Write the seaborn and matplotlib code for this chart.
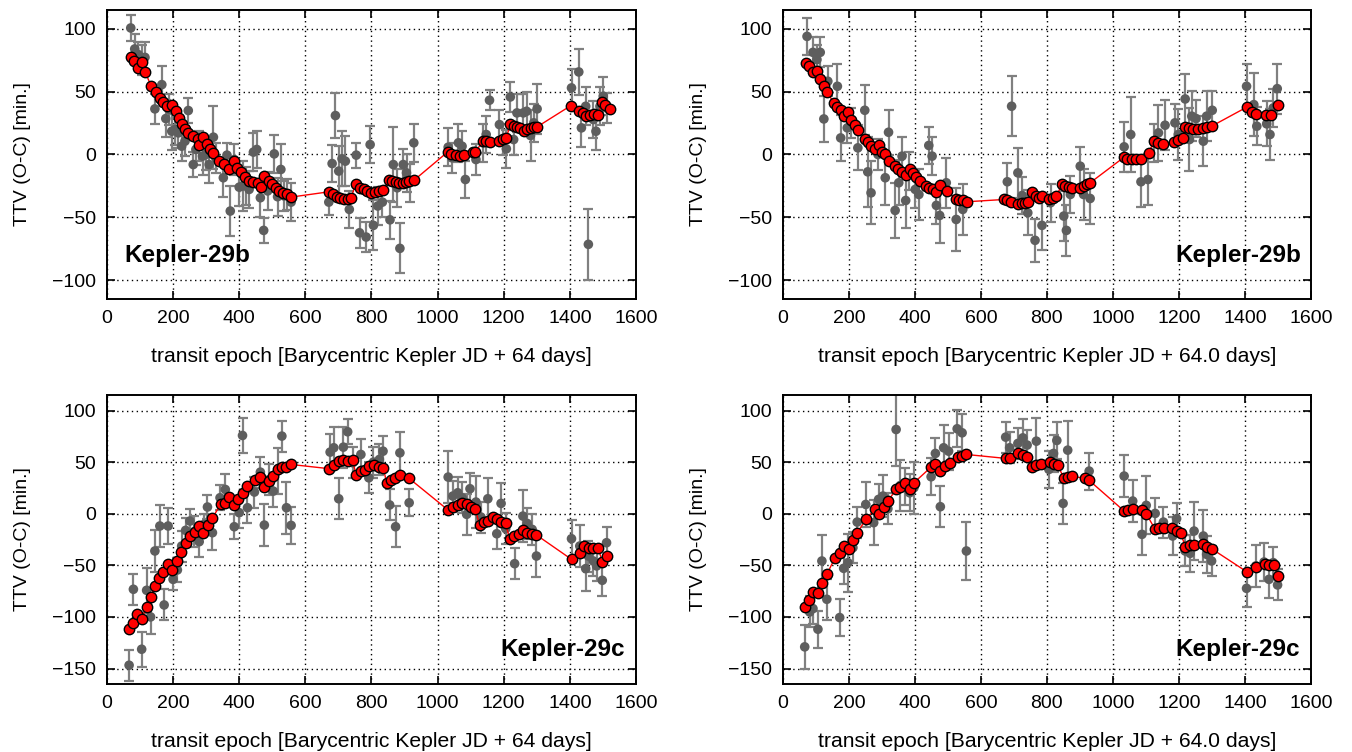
import matplotlib
matplotlib.use("Agg")
import matplotlib.pyplot as plt
import seaborn as sns

# ------------------------------------------------------------------
# Data (epoch in days, TTV in minutes)
# ------------------------------------------------------------------
# Kepler-29b, left panel (JD + 64 days)
b64_model_x = [74, 81, 93, 105, 115, 134, 147, 160, 171, 183, 198, 208, 218, 226, 236,
               246, 259, 274, 279, 291, 302, 312, 322, 339, 355, 370, 383, 393, 405, 417,
               430, 442, 456, 466, 476, 489, 499, 511, 521, 533, 544, 557,
               671, 683, 695, 705, 716, 728, 738, 752, 764, 776, 787, 799, 812, 824, 836,
               853, 863, 873, 883, 894, 904, 914, 929,
               1030, 1041, 1056, 1069, 1081, 1106, 1114, 1137, 1147, 1157, 1187, 1197, 1208,
               1220, 1230, 1240, 1250, 1261, 1271, 1281, 1291, 1301,
               1403, 1427, 1440, 1450, 1460, 1473, 1486, 1496, 1506, 1520]
b64_model_y = [77.3, 74.7, 68.6, 73.4, 66, 54.3, 49.5, 45, 42, 38.4, 39.2, 34.4, 29.1, 24.1, 20.4,
               17.2, 14.6, 12.5, 7.2, 14, 8.7, 4.5, 0.8, -5.3, -7.2, -11.4, -5.3, -10.6, -14, -18,
               -20.7, -22, -23, -26, -17.2, -21.2, -23.8, -26.5, -29.1, -30.7, -31.8, -33.9,
               -29.7, -31.3, -33.9, -34.7, -35.2, -35.2, -34.7, -23.8, -26.5, -27.8, -29.1, -30.5, -29.9, -29.1, -28.3,
               -20.4, -21.2, -22, -23, -22.5, -21.7, -20.9, -20.4,
               1.9, 0.5, -0.5, -1.3, -0.5, 1.9, 1.9, 10.6, 10.6, 9.8, 11.1, 12.5, 13.2,
               24.4, 22.5, 21.7, 20.7, 18.5, 20.4, 21.2, 21.7, 22,
               38.9, 35, 33.1, 31, 31.8, 32.3, 31.3, 41.6, 39.2, 36.6]
b64_obs_x = [72, 84, 95, 105, 115, 145, 166, 178, 188, 196, 206, 216, 226, 236, 246,
             261, 269, 279, 289, 299, 309, 322, 329, 352, 363, 373, 385, 400, 410, 420,
             430, 443, 453, 464, 474, 486, 506, 516, 526, 536, 546, 557,
             671, 681, 691, 701, 711, 721, 733, 754, 764, 784, 796, 806, 819, 833, 856,
             866, 878, 886, 896, 906, 916, 928,
             1032, 1043, 1063, 1074, 1084, 1116, 1137, 1147, 1157, 1187, 1197, 1208, 1220,
             1230, 1240, 1259, 1269, 1281, 1291, 1301,
             1405, 1427, 1435, 1448, 1456, 1471, 1479, 1491, 1501, 1511]
b64_obs_y = [100.7, 84, 79.5, 75.5, 77.3, 36.3, 55.6, 28.6, 35.8, 18.5, 19.9, 17.2, 6.6, 10.6, 35,
             -8, 4, 6.6, -1.3, 0, -8, 13.8, -2.6, -18.5, -0.5, -45, -4, -26, -25, -25,
             -27.8, 1.9, 4, -34.4, -60.4, -29, 0.5, -33.6, -11.9, -33, -31.8, -37.9,
             -37.9, -7.2, 31, -13.2, -3.4, -5.3, -43.7, -0.5, -62.3, -65.7, 7.9, -56.4, -41, -37.9, -52,
             -8, -26.5, -74.7, -8, -14.6, -22.5, 9.3,
             5.8, -2.6, 9.3, 6.6, -19.9, -4, 9.3, 15.9, 43.2, 23.8, 11.9, 4.5, 45.8,
             11.9, 33.1, 33.1, 34.4, 15.1, 25.2, 36.3,
             53, 65.7, 21.2, 38.4, -71.5, 27.8, 18.5, 38.4, 46.4, 37.1]
b64_obs_err = [10, 12, 10, 12, 12, 12, 15, 15, 12, 15, 12, 12, 12, 12, 10,
               10, 12, 12, 15, 12, 15, 25, 12, 15, 10, 20, 12, 15, 20, 15,
               15, 15, 15, 15, 10, 15, 15, 15, 20, 12, 12, 15,
               10, 15, 18, 20, 22, 20, 15, 10, 12, 12, 15, 20, 15, 12, 15,
               30, 15, 20, 12, 15, 15, 15,
               15, 12, 15, 12, 15, 12, 15, 15, 8, 12, 12, 15, 12,
               12, 15, 15, 15, 20, 15, 20,
               15, 18, 15, 15, 28, 15, 15, 15, 15, 12]

# Kepler-29b, right panel (JD + 64.0 days)
b640_model_x = [71, 79, 91, 103, 113, 123, 133, 155, 165, 175, 185, 197, 207, 217, 227,
                248, 257, 267, 278, 290, 300, 310, 320, 340, 350, 360, 373, 384, 394, 404,
                414, 434, 444, 454, 465, 475, 497, 525, 535, 545, 558,
                670, 680, 690, 712, 724, 734, 744, 755, 766, 776, 786, 806, 818, 828,
                846, 856, 866, 876, 901, 911, 921, 931,
                1034, 1044, 1057, 1071, 1085, 1108, 1125, 1138, 1153, 1185, 1198, 1212,
                1219, 1232, 1244, 1259, 1274, 1286, 1299,
                1405, 1422, 1434, 1464, 1479, 1499]
b640_model_y = [72.8, 70.2, 65.4, 66.8, 60.4, 54.8, 49.8, 41, 37.9, 35.8, 30.5, 33.6, 27.8, 23.8, 19.3,
                12.7, 9.8, 6.6, 4, 7.9, 1.9, 0.5, -4.8, -9.3, -11.9, -14, -16.4, -11.9, -15.1, -18,
                -21.2, -25.2, -27, -27.8, -29.9, -24.4, -29.1, -35.8, -36.3, -36.3, -37.6,
                -35.8, -36.3, -37.9, -39.7, -38.9, -38.4, -37.9, -29.9, -33.1, -34.4, -33.1, -35.2, -34.4, -33.1,
                -23.8, -25.2, -25.7, -26.5, -26.5, -25.2, -23.8, -22.5,
                -2.1, -3.2, -3.4, -3.4, -3.2, 1.3, 10.6, 9.3, 8.5, 10.1, 11.9, 13.2,
                22, 20.7, 20.4, 19.9, 21.2, 22, 22.5,
                37.6, 33.9, 32.6, 31.8, 31.8, 39.2]
b640_obs_x = [73, 91, 103, 113, 124, 136, 165, 175, 195, 207, 227, 248, 257, 267, 288,
              310, 320, 340, 351, 361, 372, 382, 401, 412, 442, 452, 465, 475, 495, 525, 545,
              680, 693, 712, 725, 742, 764, 785, 811, 851, 859, 871, 901, 911, 931,
              1034, 1054, 1085, 1106, 1125, 1138, 1158, 1188, 1198, 1219, 1232, 1239, 1252,
              1274, 1284, 1301,
              1405, 1427, 1436, 1466, 1476, 1486, 1498]
b640_obs_y = [94, 81.3, 75.5, 81.3, 28.3, 58.3, 54.3, 13.2, 21.2, 25.2, 5.3, 35.2, -13.8, -30.5, 0,
              -18.5, 17.7, -44.5, -22.5, -1.3, -36.6, -13.2, -27.8, -31.8, 7.2, -1.3, -40.5, -48.5, -22.5, -51.7, -43.7,
              -21.7, 38.4, -14.6, -32.6, -46.4, -68.3, -56.4, -38.4, -49, -60.4, -31.8, -9.3, -31.8, -35,
              6.1, 15.9, -21.7, -19.9, 9.3, 17.2, 23.3, 25.2, 15.9, 44.2, 11.9, 30.5, 28.6,
              10.6, 30.5, 35.2,
              54.3, 39.7, 22.5, 24.4, 15.9, 37.1, 52.4]
b640_obs_err = [15, 12, 12, 12, 18, 12, 18, 18, 12, 12, 18, 20, 28, 25, 12,
                22, 18, 22, 18, 15, 22, 15, 15, 20, 15, 15, 15, 22, 20, 25, 20,
                15, 24, 20, 15, 18, 17, 20, 15, 20, 20, 15, 15, 20, 20,
                20, 30, 20, 20, 15, 22, 20, 15, 20, 20, 25, 20, 15,
                20, 20, 15,
                18, 25, 15, 18, 20, 15, 20]

# Kepler-29c, left panel (JD + 64 days)
c64_model_x = [67, 80, 92, 105, 120, 132, 145, 158, 171, 185, 198, 211, 225, 238, 252,
               266, 279, 292, 306, 319, 344, 357, 370, 383, 397, 410, 423, 448, 464, 476,
               491, 503, 516, 529, 543, 557,
               673, 688, 701, 715, 730, 743, 754, 767, 781, 794, 807, 822, 836, 846, 858,
               871, 886, 914,
               1032, 1046, 1061, 1074, 1088, 1101, 1114, 1127, 1140, 1152, 1167, 1179, 1192,
               1206, 1218, 1231, 1246, 1258, 1271, 1286, 1299,
               1405, 1430, 1443, 1458, 1471, 1486, 1498, 1511]
c64_model_y = [-112, -106, -97.4, -101.6, -90.3, -80.3, -70, -62, -56.5, -49, -54.8, -45.8, -37.1, -28.7, -21.6,
               -17.7, -11.9, -19, -11.3, -3.9, 9, 10.6, 16.5, 8.1, 14.5, 19.7, 26.8, 32.6, 35.8, 26.1,
               31.6, 36.5, 42.9, 45.2, 45.5, 47.7,
               43.6, 46.8, 51, 51.9, 51, 51.6, 37.1, 41.3, 42.3, 46.1, 46.8, 45.5, 44.5, 29.4, 32.3,
               34.2, 37.1, 34.2,
               3.5, 6.5, 8.1, 10.6, 9, 6.5, 4.8, -11, -8.1, -7.1, -2.9, -5.5, -8.1,
               -9.4, -24.8, -21.6, -20, -16.1, -18.4, -20, -20.6,
               -44.2, -37.7, -31.3, -32.9, -33.5, -33.5, -46.5, -41]
c64_obs_x = [67, 80, 105, 120, 132, 145, 160, 173, 185, 200, 213, 226, 238, 251, 264,
             279, 294, 304, 319, 342, 358, 385, 400, 410, 425, 446, 464, 476, 491, 503,
             516, 529, 543, 557,
             675, 686, 701, 715, 728, 743, 768, 792, 806, 824, 835, 855, 873, 886, 914,
             1032, 1046, 1061, 1074, 1088, 1098, 1116, 1131, 1152, 1179, 1192, 1206, 1233,
             1258, 1271, 1286, 1299,
             1405, 1430, 1448, 1456, 1471, 1481, 1498, 1511]
c64_obs_y = [-146.8, -73.2, -131.3, -74.2, -100, -36.1, -11.9, -88.4, -11.9, -63.6, -54.5, -31.3, -16.1, -7.1, -17.4,
             -27.1, -10.3, 6.5, -18.4, 15.5, 23.5, -12.6, 1, 75.8, 5.8, 21, 40.3, -11, 33.2, 21.9,
             41.3, 75.2, 5.8, -11.3,
             59.7, 63.9, 14.5, 64.5, 79.4, 49.4, 57.4, 34.8, 50, 52.6, 60.6, 8.5, -12.6, 59, 10.6,
             35.5, 17.1, 20.3, 15.5, -0.6, 24.2, 11.3, -3.2, 14.5, -19.4, 10, -14.5, -48.4,
             -2.3, -9.4, -15.2, -41,
             -24.2, -31.3, -53.2, -41, -45.8, -50.6, -64.5, -28.1]
c64_obs_err = [15, 15, 17, 22, 17, 20, 20, 15, 17, 10, 12, 15, 12, 12, 15,
               15, 10, 12, 17, 12, 15, 12, 15, 17, 15, 15, 15, 20, 15, 15,
               22, 15, 25, 18,
               18, 20, 20, 20, 12, 15, 15, 15, 15, 15, 15, 15, 20, 20, 13,
               25, 15, 15, 15, 20, 15, 25, 15, 20, 15, 20, 15, 15,
               25, 15, 15, 20,
               18, 20, 22, 15, 15, 15, 15, 15]

# Kepler-29c, right panel (JD + 64.0 days)
c640_model_x = [66, 79, 91, 106, 118, 133, 158, 172, 185, 199, 212, 225, 253, 278, 290,
                305, 318, 343, 356, 370, 384, 397, 449, 462, 477, 492, 505, 530, 543, 556,
                675, 687, 712, 727, 740, 755, 768, 781, 808, 821, 833, 851, 863, 876, 914, 928,
                1034, 1047, 1062, 1088, 1101, 1128, 1141, 1155, 1180, 1193, 1206, 1219, 1234,
                1247, 1274, 1286, 1299,
                1405, 1433, 1461, 1474, 1488, 1499]
c640_model_y = [-90, -83.6, -75.5, -76.5, -67.4, -58.7, -42.6, -37.7, -31.3, -33.9, -25.8, -18.4, -4.8, 4.2, -0.6,
                6.8, 12.3, 23.5, 26.1, 30, 24.2, 30, 45.2, 47.7, 41.3, 46.1, 49.4, 55.2, 55.8, 57.4,
                53.6, 54.2, 58.4, 56.5, 55.2, 45.5, 47.4, 47.7, 50, 47.7, 46.8, 34.8, 35.8, 36.5, 34.2, 32.3,
                2.6, 3.5, 4.2, 3.5, 0, -15.2, -14.2, -14.2, -14.2, -16.8, -19, -31.9, -30.3,
                -30.3, -29.7, -31.9, -33.9,
                -56.1, -51.6, -49, -49.7, -49.7, -60.3]
c640_obs_x = [66, 81, 91, 106, 118, 133, 172, 184, 197, 212, 225, 251, 275, 290, 303,
              318, 343, 356, 371, 384, 397, 449, 462, 477, 487, 502, 528, 543, 556,
              675, 687, 712, 727, 740, 768, 806, 820, 830, 849, 863, 928,
              1034, 1060, 1088, 1101, 1128, 1153, 1181, 1193, 1219, 1234, 1246, 1274, 1284, 1299,
              1405, 1433, 1458, 1473, 1486, 1499]
c640_obs_y = [-129, -95.2, -91.9, -111.9, -45.8, -82.9, -100.6, -52.9, -47.4, -32.9, -8.1, 9, -8.7, 13.9, 17.1,
              4.8, 81.6, 27.4, 26.1, 20.3, 25.2, 35.8, 58.4, 6.8, 63.9, 60.6, 82.3, 78.4, -36.1,
              74.2, 63.9, 68.1, 73.5, 66.5, 70.3, 42.9, 58.4, 71, 10, 61.6, 41.3,
              36.5, 12.3, -20, 8.1, 0.3, -8.1, -21.6, -4.8, -36.1, -38.4, -16.8, -21.6, -39.4, -45.8,
              -72.3, -50.6, -46.8, -63.6, -47.4, -69]
c640_obs_err = [21, 15, 15, 18, 25, 20, 18, 15, 28, 15, 15, 22, 22, 15, 20,
                15, 35, 25, 18, 18, 25, 18, 15, 20, 22, 18, 18, 18, 28,
                15, 15, 15, 18, 15, 22, 18, 18, 18, 20, 28, 18,
                20, 20, 20, 28, 15, 15, 18, 15, 15, 18, 28, 25, 18, 15,
                18, 20, 18, 18, 15, 15]

epoch_ticks = [0, 200, 400, 600, 800, 1000, 1200, 1400, 1600]

# ------------------------------------------------------------------
sns.set_style("ticks")
plt.rcParams['font.family'] = ['Liberation Sans', 'DejaVu Sans']
plt.rcParams['axes.linewidth'] = 1.4
for key in ['text.color', 'axes.labelcolor', 'xtick.color', 'ytick.color', 'axes.edgecolor']:
    plt.rcParams[key] = 'black'

fig = plt.figure(figsize=(13.52, 7.52), dpi=100)


def draw_panel(ax, mx, my, ox, oy, oe, ylim, yticks, xlabel, name, name_x, name_y, name_ha):
    ax.errorbar(ox, oy, yerr=oe, fmt='none', ecolor='#808080', elinewidth=1.6,
                capsize=3.5, capthick=1.6, zorder=2)
    sns.scatterplot(x=ox, y=oy, color='#5e5e5e', s=48, edgecolor='none', ax=ax, zorder=3)
    sns.lineplot(x=mx, y=my, sort=False, estimator=None, color='red', lw=1,
                 marker='o', markersize=7.5, markerfacecolor='red',
                 markeredgecolor='black', markeredgewidth=1, ax=ax, zorder=4)

    ax.set_xlim(0, 1600)
    ax.set_ylim(*ylim)
    ax.set_xticks(epoch_ticks)
    ax.set_yticks(yticks)
    ax.grid(True, linestyle=(0, (1, 2.5)), color='black', linewidth=1)
    ax.tick_params(direction='in', top=True, right=True, length=6, width=1.2,
                   labelsize=14, pad=8)
    ax.set_xlabel(xlabel, fontsize=15.2, labelpad=14)
    ax.set_ylabel('TTV (O-C) [min.]', fontsize=14, labelpad=15)
    ax.text(name_x, name_y, name, fontsize=17.5, fontweight='bold', ha=name_ha, va='center')


ax1 = fig.add_axes([0.0791, 0.6024, 0.3913, 0.3843])
ax2 = fig.add_axes([0.5791, 0.6024, 0.3905, 0.3843])
ax3 = fig.add_axes([0.0791, 0.0904, 0.3913, 0.3843])
ax4 = fig.add_axes([0.5791, 0.0904, 0.3905, 0.3843])

top_ticks = [-100, -50, 0, 50, 100]
bot_ticks = [-150, -100, -50, 0, 50, 100]

draw_panel(ax1, b64_model_x, b64_model_y, b64_obs_x, b64_obs_y, b64_obs_err,
           (-115, 115), top_ticks, 'transit epoch [Barycentric Kepler JD + 64 days]',
           'Kepler-29b', 52, -80, 'left')
draw_panel(ax2, b640_model_x, b640_model_y, b640_obs_x, b640_obs_y, b640_obs_err,
           (-115, 115), top_ticks, 'transit epoch [Barycentric Kepler JD + 64.0 days]',
           'Kepler-29b', 1570, -80, 'right')
draw_panel(ax3, c64_model_x, c64_model_y, c64_obs_x, c64_obs_y, c64_obs_err,
           (-165, 115), bot_ticks, 'transit epoch [Barycentric Kepler JD + 64 days]',
           'Kepler-29c', 1567, -132, 'right')
draw_panel(ax4, c640_model_x, c640_model_y, c640_obs_x, c640_obs_y, c640_obs_err,
           (-165, 115), bot_ticks, 'transit epoch [Barycentric Kepler JD + 64.0 days]',
           'Kepler-29c', 1567, -132, 'right')

fig.savefig('out.png', dpi=100)
